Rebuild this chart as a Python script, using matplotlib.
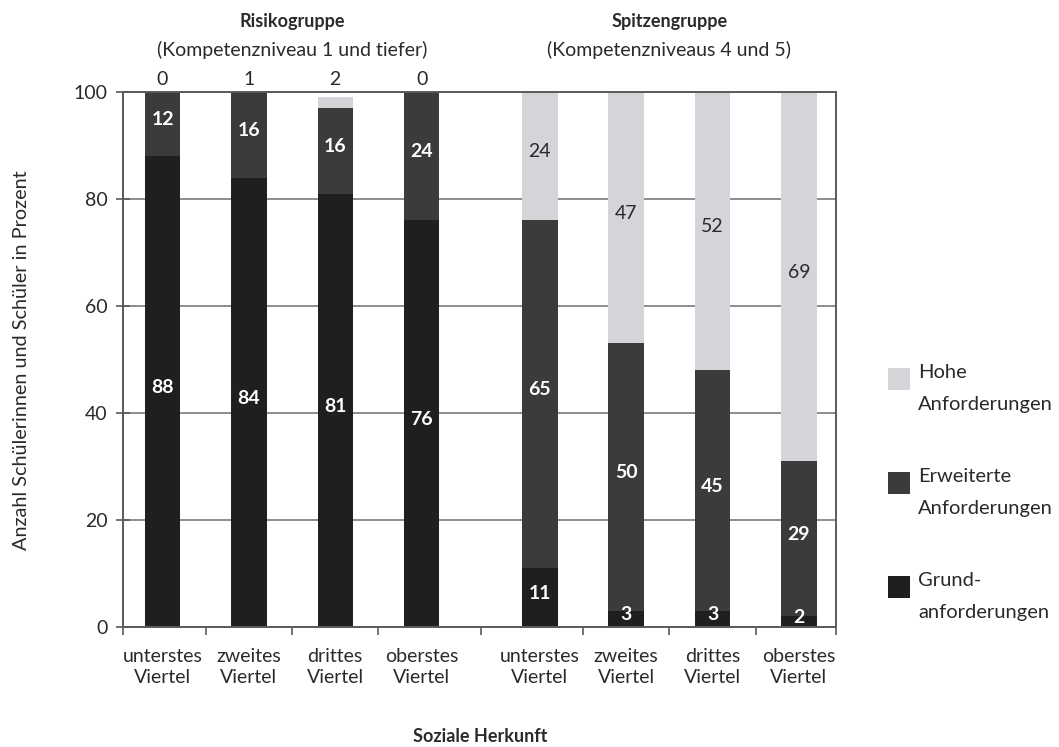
import matplotlib
matplotlib.use("Agg")
import matplotlib.pyplot as plt
from matplotlib.patches import Rectangle

plt.rcParams['font.family'] = ['Lato', 'DejaVu Sans']

# Data (percent of students)
quarters = ["unterstes\nViertel", "zweites\nViertel", "drittes\nViertel", "oberstes\nViertel"]
groups = ["Risikogruppe", "Spitzengruppe"]
group_subtitles = ["(Kompetenzniveau 1 und tiefer)", "(Kompetenzniveaus 4 und 5)"]

risiko_grund = [88, 84, 81, 76]
risiko_erweitert = [12, 16, 16, 24]
risiko_hohe = [0, 1, 2, 0]

spitze_grund = [11, 3, 3, 2]
spitze_erweitert = [65, 50, 45, 29]
spitze_hohe = [24, 47, 52, 69]

series_names = ["Hohe\nAnforderungen", "Erweiterte\nAnforderungen", "Grund-\nanforderungen"]

C_GRUND = "#1f1f1f"
C_ERW = "#3b3b3b"
C_HOHE = "#d4d5d9"
TXT = "#2a2a2a"
SPINE = "#5a5a5a"

W, H = 1059, 747
fig = plt.figure(figsize=(W / 100, H / 100), dpi=100)
ax = fig.add_axes([123 / W, 1 - 627 / H, (836 - 123) / W, (627 - 92) / H])

gap = 1.37
pos_r = [0, 1, 2, 3]
pos_s = [3 + gap + i for i in range(4)]
bw = 0.41

grund = risiko_grund + spitze_grund
erw = risiko_erweitert + spitze_erweitert
hohe = risiko_hohe + spitze_hohe
pos = pos_r + pos_s

bottom_erw = grund
bottom_hohe = [g + e for g, e in zip(grund, erw)]

ax.set_axisbelow(True)
ax.yaxis.grid(True, color="#6e6e6e", linewidth=1.1)

ax.bar(pos, grund, width=bw, color=C_GRUND, linewidth=0, zorder=2)
ax.bar(pos, erw, width=bw, bottom=bottom_erw, color=C_ERW, linewidth=0, zorder=2)
ax.bar(pos, hohe, width=bw, bottom=bottom_hohe, color=C_HOHE, linewidth=0, zorder=2)

fs = 14
for i, p in enumerate(pos):
    g, e, h = grund[i], erw[i], hohe[i]
    ax.text(p, g / 2 + 0.8, str(g), ha="center", va="center", color="white",
            fontsize=fs, fontweight="bold", zorder=3)
    ax.text(p, g + e / 2 + 0.8, str(e), ha="center", va="center", color="white",
            fontsize=fs, fontweight="bold", zorder=3)
    if i < 4:
        ax.text(p, 102.4, str(h), ha="center", va="center", color=TXT, fontsize=fs,
                clip_on=False)
    else:
        ax.text(p, g + e + h / 2 + 0.8, str(h), ha="center", va="center", color=TXT,
                fontsize=fs, zorder=3)

ax.set_xlim(-0.458, 7.80)
ax.set_ylim(0, 100)
ax.set_yticks([0, 20, 40, 60, 80, 100])
ax.tick_params(axis="y", direction="inout", length=10, width=1.2, color=SPINE,
               labelsize=fs, labelcolor=TXT, pad=6)

# boundaries between quarters as major ticks, labels at bar centres
bounds = [-0.458] + [(a + b) / 2 for a, b in zip(pos[:-1], pos[1:])] + [7.80]
ax.set_xticks(bounds)
ax.set_xticklabels([])
ax.tick_params(axis="x", which="major", direction="out", length=6, width=1.2, color=SPINE)
ax.set_xticks(pos, minor=True)
ax.set_xticklabels(quarters + quarters, minor=True, fontsize=fs, color=TXT,
                   linespacing=1.3)
ax.tick_params(axis="x", which="minor", length=0, pad=15)

for s in ax.spines.values():
    s.set_color(SPINE)
    s.set_linewidth(1.4)
    s.set_zorder(4)

# group headings
for gpos, title, sub in [(pos_r, groups[0], group_subtitles[0]),
                         (pos_s, groups[1], group_subtitles[1])]:
    cx = sum(gpos) / len(gpos)
    ax.text(cx, (627 - 22) / 535, title, transform=ax.get_xaxis_transform(),
            ha="center", va="center", fontsize=13, fontweight="bold", color=TXT)
    ax.text(cx, (627 - 50) / 535, sub, transform=ax.get_xaxis_transform(),
            ha="center", va="center", fontsize=fs, color=TXT)

fig.text(22 / W, 1 - 360 / H, "Anzahl Schülerinnen und Schüler in Prozent",
         rotation=90, ha="center", va="center", fontsize=14.3, color=TXT)
fig.text(480 / W, 1 - 737 / H, "Soziale Herkunft", ha="center", va="center",
         fontsize=13, fontweight="bold", color=TXT)

# legend
legend_colors = [C_HOHE, C_ERW, C_GRUND]
for k, (name, col) in enumerate(zip(series_names, legend_colors)):
    ytop = 368 + k * 104
    fig.patches.append(Rectangle((888 / W, 1 - (ytop + 22) / H), 22 / W, 22 / H,
                                 transform=fig.transFigure, facecolor=col,
                                 edgecolor="none"))
    fig.text(918 / W, 1 - (ytop + 11) / H, name, ha="left", va="top",
             fontsize=14.5, color=TXT, linespacing=2.1,
             transform=fig.transFigure).set_va("center_baseline")

fig.savefig("out.png", dpi=100)
